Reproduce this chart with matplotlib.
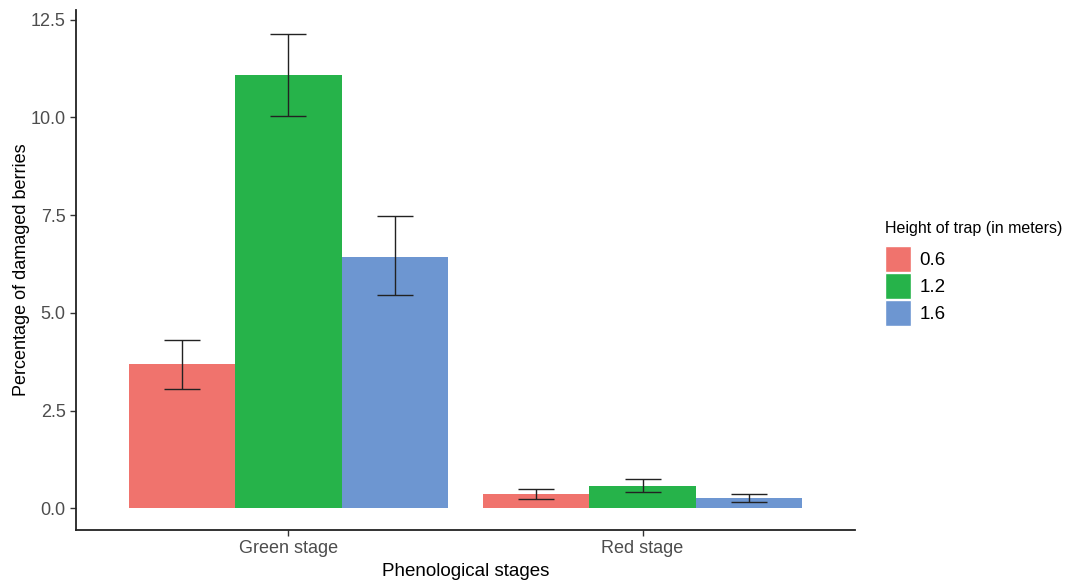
import numpy as np
import matplotlib
matplotlib.use("Agg")
import matplotlib.pyplot as plt
from matplotlib.patches import Patch

plt.rcParams['font.family'] = ['Liberation Sans', 'DejaVu Sans']

# Data
stages = ["Green stage", "Red stage"]
heights = ["0.6", "1.2", "1.6"]
means = {
    "0.6": [3.68, 0.36],
    "1.2": [11.08, 0.58],
    "1.6": [6.42, 0.26],
}
err_low = {
    "0.6": [3.05, 0.25],
    "1.2": [10.03, 0.43],
    "1.6": [5.45, 0.17],
}
err_high = {
    "0.6": [4.30, 0.49],
    "1.2": [12.13, 0.74],
    "1.6": [7.48, 0.38],
}
colors = ["#F0736D", "#26B34A", "#6D96D1"]

fig = plt.figure(figsize=(10.68, 5.81), dpi=100)
ax = fig.add_axes([0.0712, 0.088, 0.7294, 0.895])

x = np.arange(len(stages))
w = 0.3
for i, h in enumerate(heights):
    xs = x + (i - 1) * w
    m = np.array(means[h])
    lo = m - np.array(err_low[h])
    hi = np.array(err_high[h]) - m
    ax.bar(xs, m, width=w, color=colors[i], edgecolor="none")
    ax.errorbar(xs, m, yerr=[lo, hi], fmt="none", ecolor="#222222",
                elinewidth=1.0, capsize=13, capthick=1.0)

ax.set_xlim(-0.6, 1.6)
ax.set_ylim(-0.55, 12.75)
ax.set_xticks(x)
ax.set_xticklabels(stages)
ax.set_yticks([0, 2.5, 5, 7.5, 10, 12.5])
ax.set_yticklabels(["0.0", "2.5", "5.0", "7.5", "10.0", "12.5"])
ax.tick_params(labelsize=13, labelcolor="#4D4D4D", color="#333333", length=4, width=1)
for s in ["top", "right"]:
    ax.spines[s].set_visible(False)
for s in ["left", "bottom"]:
    ax.spines[s].set_color("#222222")
    ax.spines[s].set_linewidth(1.3)

ax.set_ylabel("Percentage of damaged berries", fontsize=13, labelpad=0)
ax.set_xlabel("Phenological stages", fontsize=13.5, labelpad=4)

handles = [Patch(facecolor=c, edgecolor="white", linewidth=1.0) for c in colors]
leg = fig.legend(handles, heights, title="Height of trap (in meters)",
                 loc="upper left", bbox_to_anchor=(0.822, 0.632), frameon=False,
                 fontsize=13.5, title_fontsize=11.5, handlelength=1.35, handleheight=1.75,
                 handletextpad=0.45, labelspacing=0.06, borderaxespad=0)
leg._legend_box.align = "left"
leg._legend_box.sep = 7

fig.savefig("out.png", dpi=100)
